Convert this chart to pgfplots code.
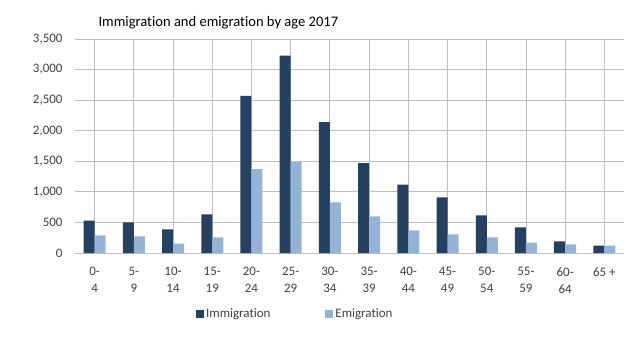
\documentclass[border=0pt]{standalone}
\usepackage{pgfplots}
\pgfplotsset{compat=1.18}
\usepackage{fontspec}
\setmainfont{Carlito}[Ligatures=NoCommon]
\definecolor{imm}{HTML}{254061}
\definecolor{emi}{HTML}{95B3D7}
\definecolor{grid}{HTML}{D9D9D9}
\definecolor{txt}{HTML}{404040}
\begin{document}
\begin{tikzpicture}
\path[use as bounding box] (-75bp,-87bp) rectangle (567bp,253bp);
\begin{axis}[
  scale only axis, width=549bp, height=214bp,
  at={(0,0)}, anchor=south west,
  ybar=0pt, bar width=11bp,
  xmin=-0.5, xmax=13.5, ymin=0, ymax=3500,
  ytick={0,500,...,3500},
  xtick={0,...,13},
  xticklabels={{0-\\4},{5-\\9},{10-\\14},{15-\\19},{20-\\24},{25-\\29},{30-\\34},{35-\\39},{40-\\44},{45-\\49},{50-\\54},{55-\\59},{60-\\64},{65 +}},
  x tick label style={align=center, font=\fontsize{13}{17}\selectfont, text=txt, yshift=-11bp},
  y tick label style={font=\fontsize{13}{15}\selectfont, text=txt, xshift=-9bp},
  /pgf/number format/assume math mode=true,
  /pgf/number format/1000 sep={,},
  scaled y ticks=false,
  major tick length=0pt,
  axis line style={draw=none},
  ymajorgrids, grid style={grid, line width=0.9bp},
  legend style={at={(0.2204,-0.285)}, anchor=west, draw=none, legend columns=2,
    font=\fontsize{13}{15}\selectfont, text=txt, inner sep=0pt,
    /tikz/every even column/.append style={column sep=53bp}},
  legend image code/.code={\fill[#1] (0bp,-4bp) rectangle (8bp,4bp);},
  legend cell align=left,
]
\addplot[fill=imm, draw=none] coordinates {
(0,530) (1,500) (2,385) (3,630) (4,2570) (5,3230) (6,2140) (7,1470) (8,1120) (9,910) (10,615) (11,420) (12,190) (13,120)};
\addplot[fill=emi, draw=none] coordinates {
(0,290) (1,270) (2,155) (3,255) (4,1370) (5,1490) (6,830) (7,600) (8,370) (9,305) (10,255) (11,170) (12,140) (13,120)};
\legend{Immigration, Emigration}
\end{axis}
\node[anchor=base west, font=\fontsize{14.6}{16}\selectfont] at (20bp,226bp) {Immigration and emigration by age 2017};
\end{tikzpicture}
\end{document}
